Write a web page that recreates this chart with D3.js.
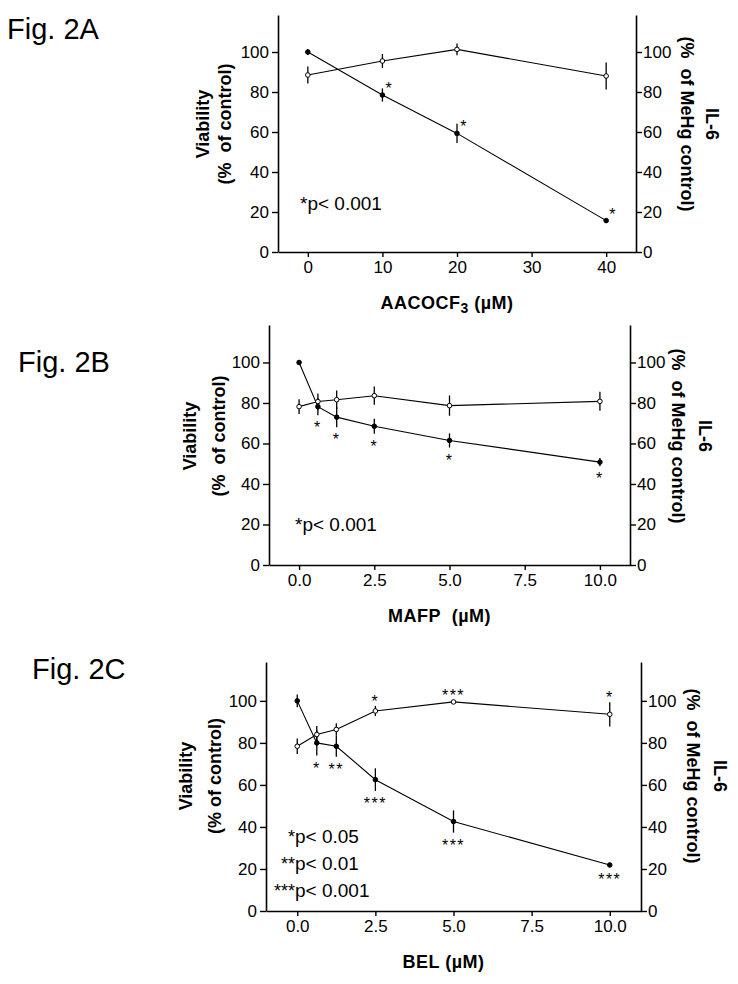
<!DOCTYPE html>
<html>
<head>
<meta charset="utf-8">
<script src="https://cdn.jsdelivr.net/npm/d3@7"></script>
<style>
  body { margin: 0; background: #fff; }
  svg text { font-family: "Liberation Sans", Arial, sans-serif; fill: #000; }
  .tick text { font-size: 17px; }
  .title { font-weight: bold; font-size: 18px; white-space: pre; }
</style>
</head>
<body>
<svg id="fig" width="738" height="984"></svg>
<script>
// ---- data ----
const yTicks = [0, 20, 40, 60, 80, 100];

const doseA = [0, 10, 20, 40];
const viabA = [100, 78.5, 59.3, 15.7];
const viabErrA = [1.5, 3.3, 4.8, 1];
const il6A = [88.5, 95.5, 101.3, 88];
const il6ErrA = [4.3, 3.5, 2.9, 6.7];
const starsViabA = ['', '*', '*', '*'];
const xTicksA = [0, 10, 20, 30, 40];

const doseB = [0, 0.625, 1.25, 2.5, 5, 10];
const viabB = [100, 78.2, 73, 68.5, 61.5, 50.8];
const viabErrB = [1, 4.2, 5, 3.7, 3.5, 2];
const il6B = [78.2, 80.7, 81.6, 83.6, 78.7, 80.8];
const il6ErrB = [3.7, 4, 4.6, 4.5, 5, 4.7];
const starsViabB = ['', '*', '*', '*', '*', '*'];
const xTicksB = [0, 2.5, 5, 7.5, 10];

const doseC = [0, 0.625, 1.25, 2.5, 5, 10];
const viabC = [100, 80, 78.4, 62.5, 42.6, 21.9];
const viabErrC = [3, 6, 5, 5.4, 5.3, 1];
const il6C = [78.4, 84, 86.4, 95.2, 99.5, 93.6];
const il6ErrC = [3.7, 4, 3, 2.4, 1, 5.8];
const starsViabC = ['', '*', '**', '***', '***', '***'];
const starsIl6C = ['', '', '', '*', '***', '*'];
const xTicksC = [0, 2.5, 5, 7.5, 10];

const svg = d3.select('#fig');

function panel(o) {
    const g = svg.append('g');
    const x = d3.scaleLinear().domain(o.xDomain).range([o.left, o.right]);
    const y = d3.scaleLinear().domain([0, 118.5]).range([o.bottom, o.top]);

    const xAxis = g.append('g').attr('transform', `translate(0,${o.bottom})`)
        .call(d3.axisBottom(x).tickValues(o.xTicks).tickFormat(o.xFmt).tickSize(5).tickSizeOuter(0).tickPadding(4));
    const yl = g.append('g').attr('transform', `translate(${o.left},0)`)
        .call(d3.axisLeft(y).tickValues(yTicks).tickSize(6).tickSizeOuter(0).tickPadding(3));
    const yr = g.append('g').attr('transform', `translate(${o.right},0)`)
        .call(d3.axisRight(y).tickValues(yTicks).tickSize(6).tickSizeOuter(0).tickPadding(1));
    [xAxis, yl, yr].forEach(a => {
        a.selectAll('path, line').attr('stroke', '#000').attr('stroke-width', 1.4);
        a.select('.domain').attr('stroke-width', 1.6);
    });

    const line = d3.line().x(d => x(d[0])).y(d => y(d[1]));
    const series = [
        {v: o.viab, e: o.viabErr, fill: '#000'},
        {v: o.il6, e: o.il6Err, fill: '#fff'}
    ];
    series.forEach(s => {
        const pts = o.dose.map((d, i) => [d, s.v[i], s.e[i]]);
        g.append('path').datum(pts).attr('d', line)
            .attr('fill', 'none').attr('stroke', '#000').attr('stroke-width', 1.1);
        g.selectAll(null).data(pts).enter().append('line')
            .attr('x1', d => x(d[0])).attr('x2', d => x(d[0]))
            .attr('y1', d => y(d[1] - d[2])).attr('y2', d => y(d[1] + d[2]))
            .attr('stroke', '#000').attr('stroke-width', 1.3);
        g.selectAll(null).data(pts).enter().append('circle')
            .attr('cx', d => x(d[0])).attr('cy', d => y(d[1])).attr('r', 2.3)
            .attr('fill', s.fill).attr('stroke', '#000').attr('stroke-width', 1);
    });

    // significance marks
    function stars(labels, vals, errs, where) {
        if (!labels) return;
        labels.forEach((t, i) => {
            if (!t) return;
            let cx = x(o.dose[i]), cy;
            if (where === 'aboveRight') { cx += 7; cy = y(vals[i]) - 10; }
            else if (where === 'below') cy = y(vals[i] - errs[i]) + 9;
            else cy = y(vals[i] + errs[i]) - 8;
            g.append('text').attr('x', cx).attr('y', cy + 9)
                .attr('text-anchor', 'middle').style('font-size', '16px')
                .style('letter-spacing', '1.5px').text(t);
        });
    }
    stars(o.starsViab, o.viab, o.viabErr, o.starPos);
    stars(o.starsIl6, o.il6, o.il6Err, 'above');

    // p-value key
    o.key.forEach((k, i) => {
        g.append('text').attr('x', o.keyX).attr('y', o.keyY + i * 27)
            .attr('text-anchor', 'end').style('font-size', '18px').text(k[0]);
        g.append('text').attr('x', o.keyX).attr('y', o.keyY + i * 27)
            .style('font-size', '19px').text(k[1]);
    });

    // axis titles
    const cy = o.titleY;
    g.append('text').attr('class', 'title').attr('transform', `translate(${o.lt[0]},${cy}) rotate(-90)`)
        .attr('text-anchor', 'middle').attr('dy', '0.35em').text('Viability');
    g.append('text').attr('class', 'title').attr('transform', `translate(${o.lt[1]},${cy}) rotate(-90)`)
        .attr('text-anchor', 'middle').attr('dy', '0.35em').text(o.ltSub);
    g.append('text').attr('class', 'title').attr('transform', `translate(${o.rt[0]},${cy}) rotate(90)`)
        .attr('text-anchor', 'middle').attr('dy', '0.35em').text('IL-6');
    g.append('text').attr('class', 'title').attr('transform', `translate(${o.rt[1]},${cy}) rotate(90)`)
        .attr('text-anchor', 'middle').attr('dy', '0.35em').text('(%  of MeHg control)');

    const xt = g.append('text').attr('class', 'title').attr('x', (o.left + o.right) / 2 - 10)
        .attr('y', o.bottom + 57).attr('text-anchor', 'middle').style('letter-spacing', '0.5px');
    o.xTitle.forEach(p => {
        const ts = xt.append('tspan').text(p[0]);
        if (p[1] === 'sub') ts.attr('dy', 4).style('font-size', '14px');
        if (p[1] === 'back') ts.attr('dy', -4);
    });

    svg.append('text').attr('x', o.fig[0]).attr('y', o.fig[1])
        .style('font-size', '29px').text(o.figLabel);
}

const fmt1 = d3.format('.1f');

panel({
    left: 278, right: 636, top: 15, bottom: 252, xDomain: [-4, 44],
    xTicks: xTicksA, xFmt: d3.format('d'),
    dose: doseA, viab: viabA, viabErr: viabErrA, il6: il6A, il6Err: il6ErrA,
    starsViab: starsViabA, starPos: 'aboveRight',
    key: [['', '*p< 0.001']], keyX: 300, keyY: 210,
    titleY: 124, lt: [203, 225], rt: [712, 687], ltSub: '(%  of control)',
    xTitle: [['AACOCF'], ['3', 'sub'], [' (µM)', 'back']],
    fig: [7, 39], figLabel: 'Fig. 2A'
});

panel({
    left: 269, right: 630, top: 325, bottom: 565, xDomain: [-1, 11],
    xTicks: xTicksB, xFmt: fmt1,
    dose: doseB, viab: viabB, viabErr: viabErrB, il6: il6B, il6Err: il6ErrB,
    starsViab: starsViabB, starPos: 'below',
    key: [['', '*p< 0.001']], keyX: 295, keyY: 531,
    titleY: 436, lt: [190, 219], rt: [705, 678], ltSub: '(%  of control)',
    xTitle: [['MAFP  (µM)']],
    fig: [18, 372], figLabel: 'Fig. 2B'
});

panel({
    left: 266, right: 641, top: 662, bottom: 911, xDomain: [-1, 11],
    xTicks: xTicksC, xFmt: fmt1,
    dose: doseC, viab: viabC, viabErr: viabErrC, il6: il6C, il6Err: il6ErrC,
    starsViab: starsViabC, starsIl6: starsIl6C, starPos: 'below',
    key: [['*', 'p< 0.05'], ['**', 'p< 0.01'], ['***', 'p< 0.001']], keyX: 295, keyY: 843,
    titleY: 776, lt: [186, 215], rt: [720, 693], ltSub: '(% of control)',
    xTitle: [['BEL (µM)']],
    fig: [32, 679], figLabel: 'Fig. 2C'
});
</script>
</body>
</html>
